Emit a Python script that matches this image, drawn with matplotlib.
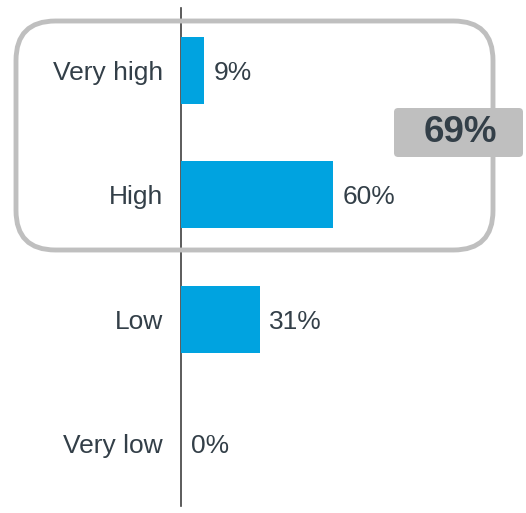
import numpy as np
import matplotlib.pyplot as plt
from matplotlib.patches import FancyBboxPatch

plt.rcParams['font.family'] = ['Liberation Sans', 'DejaVu Sans']

categories = ['Very high', 'High', 'Low', 'Very low']
values = [9, 60, 31, 0]
top_two_label = '69%'

bar_color = '#00a3e0'
text_color = '#333f48'
box_gray = '#bfbfbf'

fig = plt.figure(figsize=(5.26, 5.13), dpi=100)
W, H = 526, 513
# axes: x=0 at pixel 181, y from pixel 8 to 506
ax = fig.add_axes([181 / W, 1 - 506 / H, (W - 181) / W, (506 - 8) / H])

y = np.arange(len(categories))
ax.barh(y, values, height=0.54, color=bar_color, zorder=3)
ax.set_ylim(3.5, -0.5)
ax.set_xlim(0, (W - 181) / 2.533)

for yi, v in zip(y, values):
    ax.text(v + 3.8, yi, f'{v}%', va='center_baseline', ha='left',
            fontsize=19, color=text_color, zorder=4)

ax.set_yticks(y)
ax.set_yticklabels(categories, fontsize=19, color=text_color)
ax.tick_params(axis='y', length=0, pad=13)
ax.set_xticks([])
for s in ['top', 'right', 'bottom']:
    ax.spines[s].set_visible(False)
ax.spines['left'].set_color('#404040')
ax.spines['left'].set_linewidth(1.2)

# rounded highlight box around the top two categories
rbox = FancyBboxPatch((16 / W, 1 - 250 / H), (493 - 16) / W, (250 - 21) / H,
                      boxstyle='round,pad=0,rounding_size=0.075',
                      transform=fig.transFigure, fill=False,
                      edgecolor=box_gray, linewidth=3.5, zorder=5,
                      mutation_aspect=W / H)
fig.add_artist(rbox)

# summary label
lbox = FancyBboxPatch((394 / W, 1 - 157 / H), (523 - 394) / W, (157 - 108) / H,
                      boxstyle='round,pad=0,rounding_size=0.008',
                      transform=fig.transFigure, facecolor=box_gray,
                      edgecolor='none', zorder=6)
fig.add_artist(lbox)
fig.text(460 / W, 1 - 133 / H, top_two_label, ha='center', va='center',
         fontsize=26.5, fontweight='bold', color=text_color, zorder=7)

fig.savefig('out.png', dpi=100)
